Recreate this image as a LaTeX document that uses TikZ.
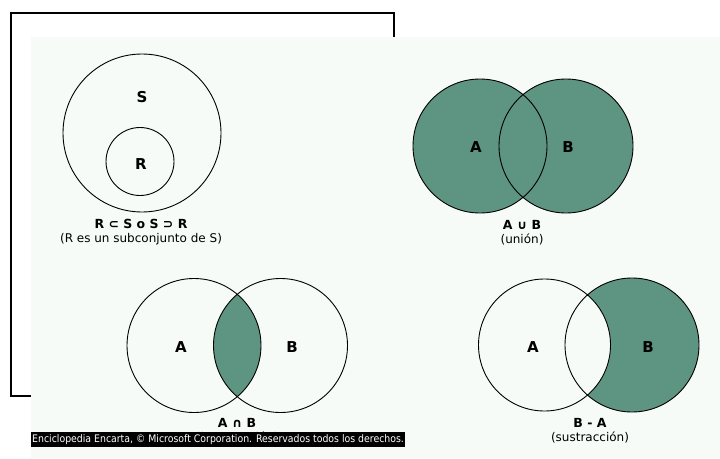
\documentclass[tikz,border=0pt]{standalone}
\usepackage{fontspec}
\setmainfont{DejaVu Sans}
\newfontfamily\bannerfont{DejaVu Sans Condensed}
\usetikzlibrary{positioning}
\definecolor{panelbg}{RGB}{246,251,248}
\definecolor{setfill}{RGB}{94,148,130}
\tikzset{
  setline/.style={draw=black,line width=0.9pt},
  setlbl/.style={font=\bfseries\fontsize{15}{15}\selectfont,inner sep=0pt},
  rel/.style={font=\bfseries\fontsize{12.5}{12.5}\selectfont,inner sep=0pt},
  relnote/.style={font=\fontsize{12}{12}\selectfont,inner sep=0pt},
}

\begin{document}
\begin{tikzpicture}[x=1pt,y=-1pt]
  \useasboundingbox (0,0) rectangle (720,458);
  \draw[line width=2pt] (11,13) rectangle (394,396);
  \fill[panelbg] (31,37) rectangle (720,458);

  % subconjunto
  \draw[setline] (142,133) circle[radius=79pt];
  \draw[setline] (140,161.5) circle[radius=34pt];
  \node[setlbl] (S) at (142,97) {S};
  \node[setlbl] (R) at (141,164) {R};
  \node[rel] (subrel) at (141,224) {R ⊂ S o S ⊃ R};
  \node[relnote,below=4pt of subrel] (subnote) {(R es un subconjunto de S)};

  % union
  \fill[setfill] (480,146) circle[radius=67pt] (566,146) circle[radius=67pt];
  \draw[setline] (480,146) circle[radius=67pt] (566,146) circle[radius=67pt];
  \node[setlbl] (uA) at (476,147) {A};
  \node[setlbl] (uB) at (568,147) {B};
  \node[rel] (unrel) at (522,225) {A ∪ B};
  \node[relnote,below=4pt of unrel] (unnote) {(unión)};

  % interseccion
  \begin{scope}
    \clip (194,345.5) circle[radius=67pt];
    \fill[setfill] (280.5,345.5) circle[radius=67pt];
  \end{scope}
  \draw[setline] (194,345.5) circle[radius=67pt] (280.5,345.5) circle[radius=67pt];
  \node[setlbl] (iA) at (181,347) {A};
  \node[setlbl] (iB) at (292,347) {B};
  \node[rel] (inrel) at (237,423) {A ∩ B};
  \node[relnote,below=4pt of inrel] (innote) {(intersección)};

  % sustraccion
  \fill[setfill] (632,345) circle[radius=67pt];
  \begin{scope}
    \clip (632,345) circle[radius=67pt];
    \fill[panelbg] (544.5,345) circle[radius=66pt];
  \end{scope}
  \draw[setline] (544.5,345) circle[radius=66pt] (632,345) circle[radius=67pt];
  \node[setlbl] (dA) at (533,347) {A};
  \node[setlbl] (dB) at (648,347) {B};
  \node[rel] (dfrel) at (590,423) {B - A};
  \node[relnote,below=4pt of dfrel] (dfnote) {(sustracción)};

  \node[fill=black,text=white,inner xsep=1pt,inner ysep=2.5pt,anchor=south west,
        font=\bannerfont\fontsize{10.4}{10.4}\selectfont] (credit) at (31,447.5)
        {Enciclopedia Encarta, © Microsoft Corporation. Reservados todos los derechos.};
\end{tikzpicture}
\end{document}
